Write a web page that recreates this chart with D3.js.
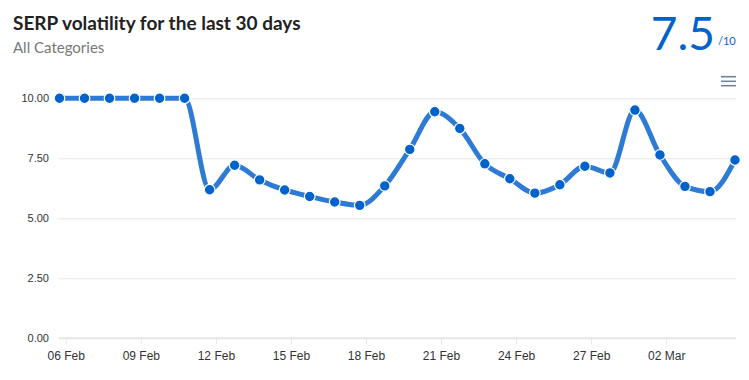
<!DOCTYPE html>
<html>
<head>
<meta charset="utf-8">
<script src="https://cdn.jsdelivr.net/npm/d3@7"></script>
<style>
  html, body { margin: 0; padding: 0; background: #fff; }
  svg { display: block; }
</style>
</head>
<body>
<svg id="chart" width="749" height="380"></svg>
<script>
const titleText = "SERP volatility for the last 30 days";
const subtitleText = "All Categories";
const scoreText = "7.5";
const scoreMax = "/10";

const startDate = "2023-02-05T18:00:00Z";
const values = [10, 10, 10, 10, 10, 10, 6.19, 7.21, 6.60, 6.18, 5.91, 5.68, 5.54, 6.35,
                7.87, 9.44, 8.74, 7.27, 6.65, 6.05, 6.40, 7.17, 6.89, 9.51, 7.64, 6.33, 6.11, 7.43];
const yTicks = [0, 2.5, 5, 7.5, 10];
const xTickDates = ["2023-02-06", "2023-02-09", "2023-02-12", "2023-02-15", "2023-02-18",
                    "2023-02-21", "2023-02-24", "2023-02-27", "2023-03-02"];

const start = new Date(startDate);
const data = values.map((v, i) => ({ date: d3.utcDay.offset(start, i), value: v }));

const svg = d3.select("#chart");
const pLeft = 59, pRight = 736, pTop = 98.3, pBottom = 338.3;

const x = d3.scaleUtc()
  .domain([data[0].date, data[data.length - 1].date])
  .range([59.5, 735]);
const y = d3.scaleLinear().domain([0, 10]).range([pBottom, pTop]);

// Title & subtitle
svg.append("text").attr("x", 13).attr("y", 30)
  .attr("font-family", "Lato, 'Open Sans', sans-serif").attr("font-weight", 700)
  .attr("font-size", 19).attr("fill", "#222").text(titleText);
svg.append("text").attr("x", 13).attr("y", 53)
  .attr("font-family", "Lato, 'Open Sans', sans-serif")
  .attr("font-size", 15).attr("fill", "#777").text(subtitleText);

// Score
svg.append("text").attr("x", 715).attr("y", 50).attr("text-anchor", "end")
  .attr("font-family", "Lato, 'Open Sans', sans-serif").attr("font-weight", 400)
  .attr("font-size", 46).attr("fill", "#0063cc").text(scoreText);
svg.append("text").attr("x", 718).attr("y", 45)
  .attr("font-family", "Lato, 'Open Sans', sans-serif")
  .attr("font-size", 11).attr("fill", "#0063cc").text(scoreMax);

// Hamburger
const menu = svg.append("g");
[76.7, 81.3, 85.7].forEach(yy => {
  menu.append("line").attr("x1", 721).attr("x2", 736).attr("y1", yy).attr("y2", yy)
    .attr("stroke", "#738496").attr("stroke-width", 1.6);
});

// Grid lines
const gridAxis = d3.axisLeft(y).tickValues(yTicks.filter(t => t > 0))
  .tickSize(-(pRight - pLeft)).tickFormat("");
const gg = svg.append("g").attr("transform", `translate(${pLeft},0)`).call(gridAxis);
gg.select(".domain").remove();
gg.selectAll("line").attr("stroke", "#e6e6e6").attr("stroke-width", 1);

// Y labels
const yAxis = d3.axisLeft(y).tickValues(yTicks).tickSize(0).tickPadding(0)
  .tickFormat(d3.format(".2f"));
const ya = svg.append("g").attr("transform", `translate(49,0)`).call(yAxis);
ya.select(".domain").remove();
ya.selectAll("text").attr("font-family", "'Liberation Sans', Arial, sans-serif")
  .attr("font-size", 11).attr("fill", "#333").attr("dy", "0.32em");

// X axis
const xAxis = d3.axisBottom(x).tickValues(xTickDates.map(s => new Date(s + "T00:00:00Z")))
  .tickSize(6).tickPadding(7).tickFormat(d3.utcFormat("%d %b"));
const xa = svg.append("g").attr("transform", `translate(0,${pBottom})`).call(xAxis);
xa.select(".domain").remove();
xa.selectAll("line").attr("stroke", "#e6e6e6").attr("stroke-width", 1);
xa.selectAll("text").attr("font-family", "'Liberation Sans', Arial, sans-serif")
  .attr("font-size", 12).attr("fill", "#333");
svg.append("line").attr("x1", pLeft).attr("x2", pRight).attr("y1", pBottom).attr("y2", pBottom)
  .attr("stroke", "#e6e6e6").attr("stroke-width", 2);

// Line
const line = d3.line().x(d => x(d.date)).y(d => y(d.value)).curve(d3.curveMonotoneX);
svg.append("path").datum(data).attr("d", line)
  .attr("fill", "none").attr("stroke", "#2e7bd6").attr("stroke-width", 5)
  .attr("stroke-linejoin", "round").attr("stroke-linecap", "round");

// Markers
svg.append("g").selectAll("circle").data(data).join("circle")
  .attr("cx", d => x(d.date)).attr("cy", d => y(d.value)).attr("r", 5.3)
  .attr("fill", "#0063cc").attr("stroke", "#fff").attr("stroke-width", 1.2);
</script>
</body>
</html>
